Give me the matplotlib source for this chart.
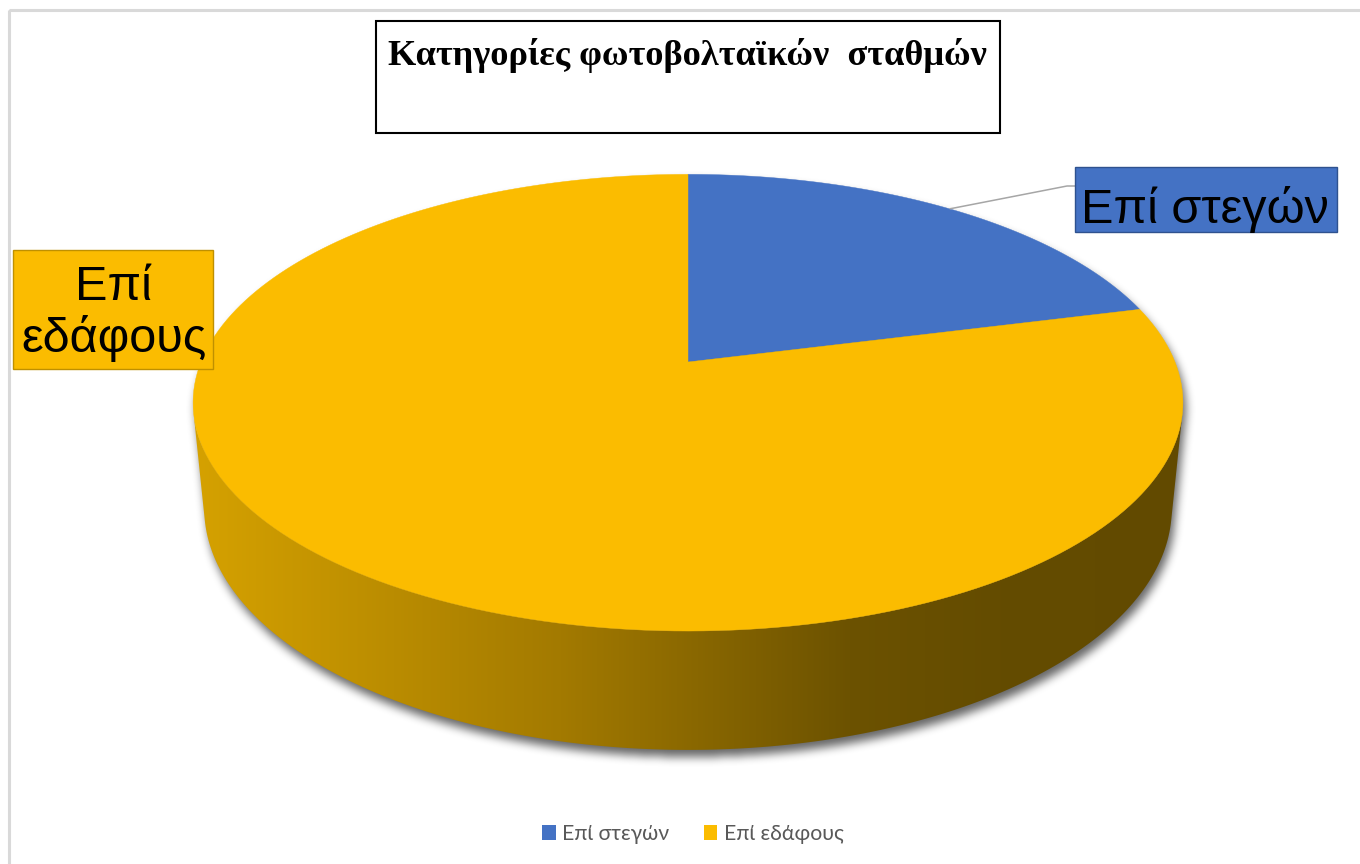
import numpy as np
import matplotlib
matplotlib.use('Agg')
import matplotlib.pyplot as plt
from matplotlib.patches import Polygon, Rectangle, Patch
from matplotlib.path import Path

# ---------------- data ----------------
categories = ['Επί στεγών', 'Επί εδάφους']
values = [21, 79]
colors = ['#4472C4', '#FBBC00']
label_edge = ['#2F528F', '#BF9000']
title = 'Κατηγορίες φωτοβολταϊκών  σταθμών'

# ---------------- figure ----------------
W, H = 1360, 864
fig = plt.figure(figsize=(W / 100, H / 100), dpi=100)
ax = fig.add_axes([0, 0, 1, 1])
ax.axis('off')

# perspective projection of a unit disk (pixel-space axes)
CX, CY, F, D = 688.0, 362.0, 2435.0, 5.0
PHI = np.radians(27.0)
S, C = np.sin(PHI), np.cos(PHI)
THICK = 0.245


def proj(theta_deg, r=1.0, w=0.0):
    t = np.radians(np.atleast_1d(theta_deg))
    u = r * np.sin(t)
    v = r * np.cos(t)
    yc = v * S + w * C
    zc = D + v * C - w * S
    return np.column_stack([CX + F * u / zc, CY - F * yc / zc])


# outer chart border
ax.add_patch(Rectangle((9, 9.5), 1400, 900, fill=False, edgecolor='#D9D9D9',
                       lw=2.2, zorder=0))

# angles from data
total = float(sum(values))
bounds = np.concatenate([[0.0], np.cumsum(values) / total * 360.0])

# silhouette / side
th_t = np.degrees(np.arccos(-1.0 / (D * C)))
side_top = proj(np.linspace(th_t, 360 - th_t, 300), w=0.0)
side_bot = proj(np.linspace(360 - th_t, th_t, 300), w=-THICK)
side_poly = np.vstack([side_top, side_bot])
top_ellipse = proj(np.linspace(0, 360, 600), w=0.0)

# soft shadow
dx, dy = 3.0, 7.0
yy, xx = np.mgrid[0:H, 0:W]
pts = np.column_stack([xx.ravel() + 0.5 - dx, yy.ravel() + 0.5 - dy])
mask = (Path(side_poly).contains_points(pts) |
        Path(top_ellipse).contains_points(pts)).reshape(H, W).astype(float)


def blur1d(a, r, axis):
    a = np.moveaxis(a, axis, -1)
    pad = np.pad(a, [(0, 0)] * (a.ndim - 1) + [(r + 1, r)], mode='edge')
    cs = np.cumsum(pad, axis=-1)
    out = (cs[..., 2 * r + 1:] - cs[..., :-2 * r - 1]) / (2 * r + 1)
    return np.moveaxis(out, -1, axis)


for _ in range(3):
    mask = blur1d(mask, 4, 0)
    mask = blur1d(mask, 4, 1)
shadow = np.zeros((H, W, 4))
shadow[..., 3] = np.clip(mask, 0, 1) * 0.6
ax.imshow(shadow, extent=(0, W, H, 0), zorder=1, interpolation='bilinear')

# side with horizontal gradient
x0, x1 = side_poly[:, 0].min() - 2, side_poly[:, 0].max() + 2
y0, y1 = side_poly[:, 1].min() - 2, side_poly[:, 1].max() + 2
gx = np.linspace(x0, x1, 800)
stops_x = [190, 560, 850, 1000, 1190]
stops_r = [214, 163, 108, 100, 98]
stops_g = [162, 122, 82, 76, 74]
stops_b = [0, 0, 0, 0, 0]
grad = np.stack([np.interp(gx, stops_x, stops_r),
                 np.interp(gx, stops_x, stops_g),
                 np.interp(gx, stops_x, stops_b)], axis=-1)[None, :, :] / 255.0
side_patch = Polygon(side_poly, closed=True, facecolor='none', edgecolor='none',
                     transform=ax.transData)
im = ax.imshow(grad, extent=(x0, x1, y1, y0), aspect='auto', zorder=2,
               interpolation='bilinear')
im.set_clip_path(side_patch)

# top face slices
for i in range(len(values)):
    arc = proj(np.linspace(bounds[i], bounds[i + 1], 200), w=0.0)
    apex = proj(0.0, r=0.0)
    ax.add_patch(Polygon(np.vstack([apex, arc]), closed=True,
                         facecolor=colors[i], edgecolor=colors[i], lw=0.3,
                         zorder=3))

# leader line for the blue slice
mid = proj((bounds[0] + bounds[1]) / 2.0)[0]
ax.plot([mid[0], 1067, 1075], [mid[1], 186, 186], color='#A6A6A6', lw=1.1,
        zorder=4, solid_capstyle='butt')

# data labels
LABEL_FONT = 'Liberation Sans'
ax.add_patch(Rectangle((1075, 167), 262, 65, facecolor=colors[0],
                       edgecolor=label_edge[0], lw=1.0, zorder=5))
ax.text(1205, 223, categories[0], ha='center', va='baseline', fontsize=35,
        family=LABEL_FONT, color='black', zorder=6)

ax.add_patch(Rectangle((13, 250), 200, 119, facecolor=colors[1],
                       edgecolor=label_edge[1], lw=1.0, zorder=5))
w1, w2 = categories[1].split(' ')
ax.text(113, 300, w1, ha='center', va='baseline', fontsize=35,
        family=LABEL_FONT, color='black', zorder=6)
ax.text(114, 352, w2, ha='center', va='baseline', fontsize=35,
        family=LABEL_FONT, color='black', zorder=6)

# title box
ax.add_patch(Rectangle((376, 21), 624, 112, facecolor='white',
                       edgecolor='black', lw=1.5, zorder=5))
ax.text(687, 65, title, ha='center', va='baseline', fontsize=26.2,
        family='Liberation Serif', fontweight='bold', color='black', zorder=6)

ax.set_xlim(0, W)
ax.set_ylim(H, 0)

# legend
handles = [Patch(facecolor=c, edgecolor='none') for c in colors]
fig.legend(handles, categories, loc='center', bbox_to_anchor=(693 / W, 1 - 834 / H),
           ncol=2, frameon=False, handlelength=0.65, handleheight=0.65,
           handletextpad=0.3, columnspacing=1.6, labelcolor='#595959',
           prop={'family': ['Lato', 'Noto Sans', 'DejaVu Sans'], 'size': 15.3})

fig.savefig('out.png', dpi=100)
